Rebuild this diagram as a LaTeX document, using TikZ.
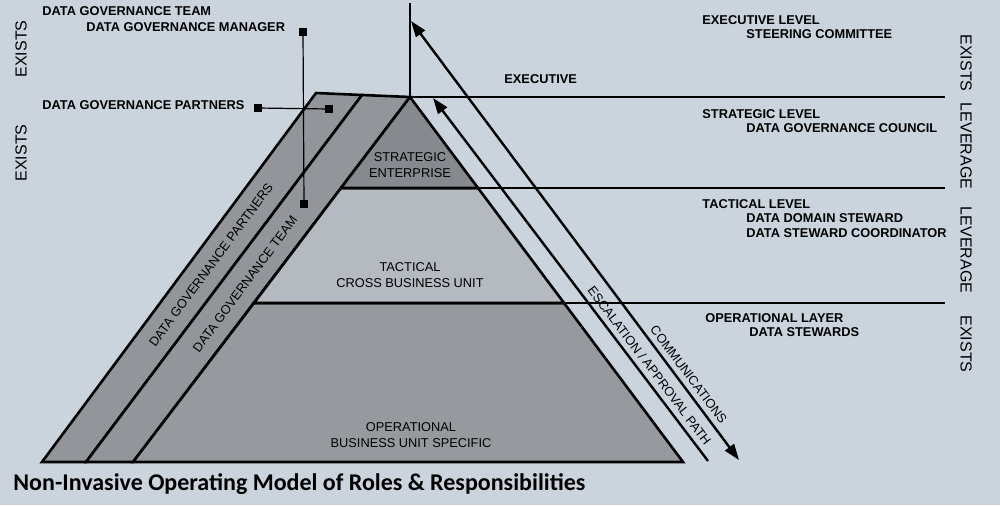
\documentclass[tikz,border=0pt]{standalone}
\usepackage{fontspec}
\setmainfont{Liberation Sans}
\newfontfamily\captionfont{Carlito}
\usepackage{xcolor}
\usetikzlibrary{arrows.meta,positioning}

\definecolor{paper}{RGB}{203,211,220}
\definecolor{bandgray}{RGB}{146,150,154}
\definecolor{stratgray}{RGB}{134,138,142}
\definecolor{tactgray}{RGB}{180,186,192}
\definecolor{opgray}{RGB}{150,154,158}

\begin{document}
\begin{tikzpicture}[
  x=0.5pt, y=-0.5pt,
  lbl/.style={font=\bfseries\fontsize{6.4}{7.6}\selectfont, inner sep=0pt},
  tierlbl/.style={font=\fontsize{6.4}{7.6}\selectfont, align=center, inner sep=0pt},
  bandlbl/.style={font=\fontsize{6.4}{7.6}\selectfont, inner sep=0pt, rotate=53.5},
  side/.style={font=\fontsize{8}{9}\selectfont, inner sep=0pt},
  outline/.style={draw, line width=1.3pt, line join=miter},
  level/.style={line width=0.8pt},
  leader/.style={line width=0.6pt},
  tagsq/.style={fill, minimum size=3.6pt, inner sep=0pt},
  pathlbl/.style={font=\fontsize{6.4}{7.6}\selectfont, sloped, above, inner sep=2.6pt},
  flow/.style={line width=1.2pt, {Triangle[length=8pt,width=5.5pt]}-{Triangle[length=8pt,width=5.5pt]}},
  upflow/.style={line width=1.2pt, {Triangle[length=8pt,width=5.5pt]}-}
]
  \fill[paper] (0,0) rectangle (1000,505);
  \useasboundingbox (0,0) rectangle (1000,505);

  % pyramid corners
  \coordinate (Apex) at (410,97);
  \coordinate (ApexTop) at (410,3);
  \coordinate (BaseL) at (133,462);
  \coordinate (BaseR) at (683,462);
  \coordinate (StratL) at (341,188);
  \coordinate (StratR) at (478,188);
  \coordinate (TactL) at (254,303);
  \coordinate (TactR) at (564,303);
  \coordinate (OuterTop) at (316,93);
  \coordinate (MidTop) at (362,95);
  \coordinate (OuterBot) at (42,462);
  \coordinate (MidBot) at (86,462);

  % side bands
  \filldraw[outline, fill=bandgray] (OuterTop) -- (MidTop) -- (MidBot) -- (OuterBot) -- cycle;
  \filldraw[outline, fill=bandgray] (MidTop) -- (Apex) -- (BaseL) -- (MidBot) -- cycle;

  % layers
  \filldraw[outline, fill=opgray] (TactL) -- (TactR) -- (BaseR) -- (BaseL) -- cycle;
  \filldraw[outline, fill=tactgray] (StratL) -- (StratR) -- (TactR) -- (TactL) -- cycle;
  \filldraw[outline, fill=stratgray] (Apex) -- (StratR) -- (StratL) -- cycle;

  \node[tierlbl] (Strategic) at (410,165) {STRATEGIC\\ENTERPRISE};
  \node[tierlbl] (Tactical) at (410,275) {TACTICAL\\CROSS BUSINESS UNIT};
  \node[tierlbl] (Operational) at (411,435) {OPERATIONAL\\BUSINESS UNIT SPECIFIC};
  \node[bandlbl] (PartnersBand) at (211,265) {DATA GOVERNANCE PARTNERS};
  \node[bandlbl] (TeamBand) at (245,284) {DATA GOVERNANCE TEAM};

  % level lines
  \coordinate (ExecEnd) at (945,97);
  \coordinate (StratEnd) at (945,188);
  \coordinate (TactEnd) at (945,303);
  \draw[outline] (Apex) -- (ApexTop);
  \draw[level] (Apex) -- (ExecEnd);
  \draw[level] (StratR) -- (StratEnd);
  \draw[level] (TactR) -- (TactEnd);

  % escalation and communication paths
  \coordinate (CommTop) at (411,21);
  \coordinate (CommBot) at (739,460);
  \coordinate (EscTop) at (433,98);
  \coordinate (EscBot) at (708,461);
  \draw[flow] (CommTop) -- node[pathlbl, pos=0.82] (Comm) {COMMUNICATIONS} (CommBot);
  \draw[upflow] (EscTop) -- node[pathlbl, pos=0.755] (Esc) {ESCALATION / APPROVAL PATH} (EscBot);

  % role labels, left
  \node[lbl, anchor=west] (DGTeam) at (42,11) {DATA GOVERNANCE TEAM};
  \node[lbl, below right=3pt and 22pt of DGTeam.south west] (DGManager) {DATA GOVERNANCE MANAGER};
  \node[lbl, anchor=west] (DGPartners) at (42,105) {DATA GOVERNANCE PARTNERS};
  \node[tagsq] (MgrTop) at (303,32) {};
  \node[tagsq] (MgrBot) at (304,204) {};
  \node[tagsq] (PtnL) at (258,108) {};
  \node[tagsq] (PtnR) at (329,109) {};
  \draw[leader] (MgrTop) -- (MgrBot);
  \draw[leader] (PtnL) -- (PtnR);

  % level labels, right
  \node[lbl, anchor=west] (Executive) at (504,79) {EXECUTIVE};
  \node[lbl, anchor=west] (ExecLevel) at (702,20) {EXECUTIVE LEVEL};
  \node[lbl, below right=2pt and 22pt of ExecLevel.south west] (Steering) {STEERING COMMITTEE};
  \node[lbl, anchor=west] (StratLevel) at (702,114) {STRATEGIC LEVEL};
  \node[lbl, below right=2pt and 22pt of StratLevel.south west] (Council) {DATA GOVERNANCE COUNCIL};
  \node[lbl, anchor=west] (TactLevel) at (702,204) {TACTICAL LEVEL};
  \node[lbl, below right=2pt and 22pt of TactLevel.south west] (DomainSteward) {DATA DOMAIN STEWARD};
  \node[lbl, below right=2.5pt and 0pt of DomainSteward.south west] (Coordinator) {DATA STEWARD COORDINATOR};
  \node[lbl, anchor=west] (OpLayer) at (705,318) {OPERATIONAL LAYER};
  \node[lbl, below right=2pt and 22pt of OpLayer.south west] (Stewards) {DATA STEWARDS};

  % side tags
  \node[side, rotate=90] (ExistsL1) at (21,49) {EXISTS};
  \node[side, rotate=90] (ExistsL2) at (21,153) {EXISTS};
  \node[side, rotate=-90] (ExistsR1) at (966,63) {EXISTS};
  \node[side, rotate=-90] (LeverageR1) at (966,146) {LEVERAGE};
  \node[side, rotate=-90] (LeverageR2) at (966,250) {LEVERAGE};
  \node[side, rotate=-90] (ExistsR2) at (966,344) {EXISTS};

  \node[font=\captionfont\bfseries\fontsize{12}{14}\selectfont, anchor=west, inner sep=0pt] (Caption) at (13,484)
    {Non-Invasive Operating Model of Roles \& Responsibilities};
\end{tikzpicture}
\end{document}
